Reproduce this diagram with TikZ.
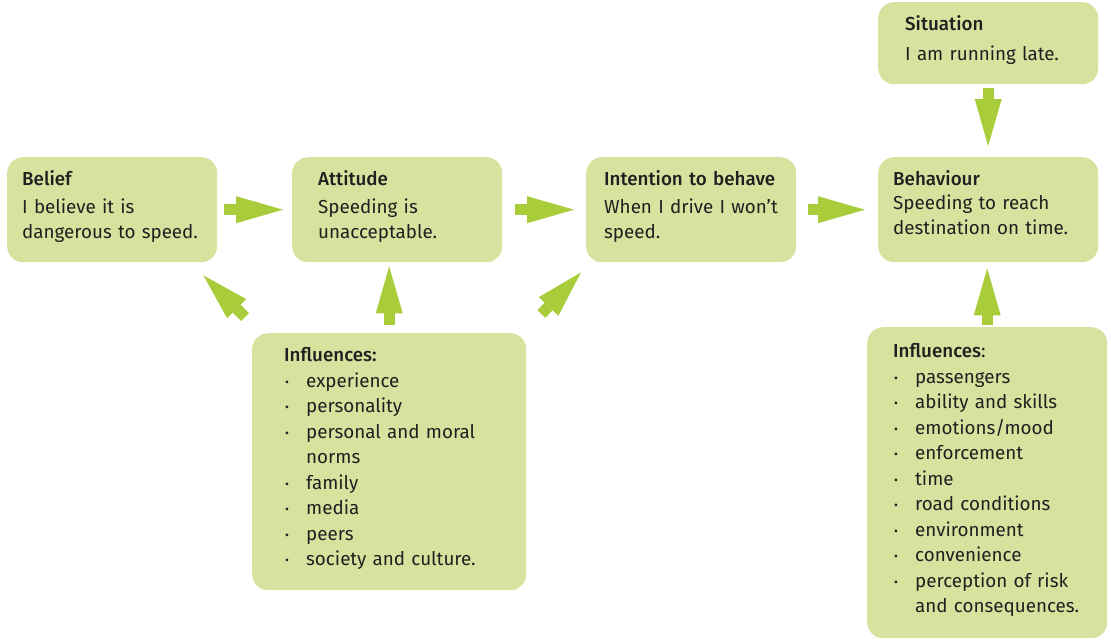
\documentclass[tikz,border=0pt]{standalone}
\usepackage{fontspec}
\setmainfont{Fira Sans}[BoldFont={Fira Sans Medium}]
\usetikzlibrary{arrows.meta, positioning}

\definecolor{cardgreen}{HTML}{D5E39F}
\definecolor{arrowgreen}{HTML}{A8CC3A}
\definecolor{inkgray}{HTML}{231F20}

\newcommand{\bul}{\makebox[22pt][l]{\hspace{1pt}\raisebox{1pt}{\fontsize{12}{12}\selectfont\textbullet}}}
\newcommand{\cont}{\hspace*{22pt}}
\newcommand{\lift}[1]{\par\vspace{#1}}

\begin{document}
\begin{tikzpicture}[x=1pt, y=-1pt,
    card/.style={rectangle, rounded corners=16pt, fill=cardgreen, anchor=north west,
                 align=left, inner ysep=0pt, text=inkgray,
                 font=\fontsize{18.8}{25.5}\selectfont},
    fat/.style={arrowgreen, line width=11pt,
                -{Triangle[length=47pt, width=27pt, line width=0pt]}}
  ]
    \useasboundingbox (0,0) rectangle (1111,641);

    \node[card, text width=180pt, inner xsep=15pt, minimum height=105pt] (belief) at (7,157)
      {\textbf{Belief}\\[2pt]I believe it is\\dangerous to speed.\lift{6pt}};
    \node[card, text width=158pt, inner xsep=26pt, minimum height=105pt] (attitude) at (292,157)
      {\textbf{Attitude}\\[2pt]Speeding is\\unacceptable.\lift{6pt}};
    \node[card, text width=174pt, inner xsep=18pt, minimum height=105pt] (intention) at (586,157)
      {\textbf{Intention to behave}\\[2pt]When I drive I won’t\\speed.\lift{6pt}};
    \node[card, text width=190pt, inner xsep=15pt, minimum height=105pt] (behaviour) at (878,157)
      {\textbf{Behaviour}\\[-2pt]Speeding to reach\\destination on time.\lift{14pt}};
    \node[card, text width=166pt, inner xsep=27pt, minimum height=82pt] (situation) at (878,2)
      {\textbf{Situation}\\[4pt]I am running late.\lift{6pt}};

    \node[card, text width=210pt, inner xsep=32pt, minimum height=257pt] (inflA) at (252,333)
      {\textbf{Influences:}\\
       \bul experience\\
       \bul personality\\
       \bul personal and moral\\
       \cont norms\\
       \bul family\\
       \bul media\\
       \bul peers\\
       \bul society and culture.\lift{6pt}};
    \node[card, text width=188pt, inner xsep=26pt, minimum height=311pt] (inflB) at (867,327)
      {\textbf{Influences}:\\
       \bul passengers\\
       \bul ability and skills\\
       \bul emotions/mood\\
       \bul enforcement\\
       \bul time\\
       \bul road conditions\\
       \bul environment\\
       \bul convenience\\
       \bul perception of risk\\
       \cont and consequences.\lift{5pt}};

    % chain of arrows
    \draw[fat, shorten <=7pt, shorten >=9pt] (belief) -- (attitude);
    \draw[fat, shorten <=13pt, shorten >=12pt] (attitude) -- (intention);
    \draw[fat, shorten <=12pt, shorten >=13pt] (intention) -- (behaviour);
    \draw[fat, shorten <=4pt, shorten >=11pt] (situation) -- (behaviour);

    % influences
    \draw[fat, shorten <=8pt, shorten >=4pt] (inflA.north) -- (inflA.north |- attitude.south);
    \draw[fat] ([shift={(-7,-16)}]inflA.north west) -- ([shift={(-14,13)}]belief.south east);
    \draw[fat] ([shift={(15,-19)}]inflA.north east) -- ([shift={(-5,10)}]intention.south west);
    \draw[fat, shorten <=2pt, shorten >=6pt] (inflB.north) -- (inflB.north |- behaviour.south);
  \end{tikzpicture}
\end{document}
